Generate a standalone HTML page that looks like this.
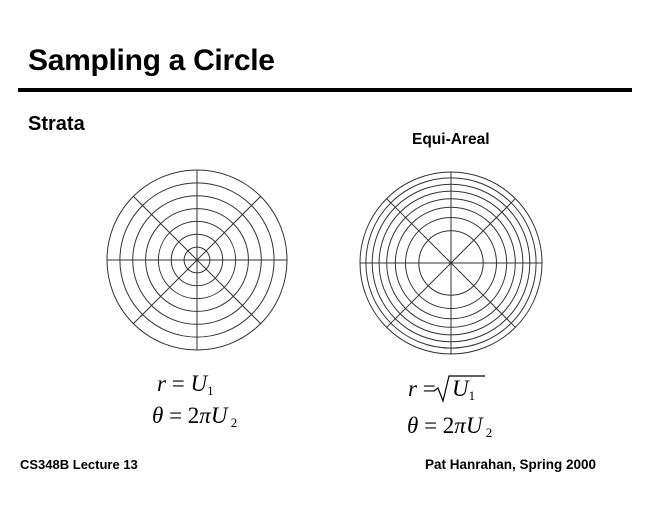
<!DOCTYPE html>
<html><head><meta charset="utf-8"><style>
html,body{margin:0;padding:0;background:#fff;}
body{width:660px;height:510px;position:relative;overflow:hidden;font-family:"Liberation Sans",sans-serif;color:#000;}
.a{position:absolute;white-space:nowrap;line-height:1;}
.b{font-weight:bold;}
.m{font-family:"Liberation Serif",serif;font-size:23px;}
.m i{font-style:italic;}
.m sub{font-size:13px;vertical-align:-4px;}
</style></head><body>
<div class="a b" style="left:28px;top:46px;font-size:30px;letter-spacing:-0.3px;">Sampling a Circle</div>
<div style="position:absolute;left:18px;top:88px;width:614px;height:4px;background:#000;"></div>
<div class="a b" style="left:28px;top:114px;font-size:20px;">Strata</div>
<div class="a b" style="left:412px;top:132px;font-size:15.5px;">Equi-Areal</div>
<svg width="660" height="510" style="position:absolute;left:0;top:0" fill="none" stroke="#333" stroke-width="1">
<g transform="translate(197,260)">
<circle r="12.9"/><circle r="25.7"/><circle r="38.6"/><circle r="51.4"/><circle r="64.3"/><circle r="77.1"/><circle r="90"/>
<line x1="-90" y1="0" x2="90" y2="0"/><line x1="0" y1="-90" x2="0" y2="90"/>
<line x1="-63.6" y1="-63.6" x2="63.6" y2="63.6"/><line x1="-63.6" y1="63.6" x2="63.6" y2="-63.6"/>
</g>
<g transform="translate(451,263)">
<circle r="32.2"/><circle r="45.5"/><circle r="55.7"/><circle r="64.3"/><circle r="71.9"/><circle r="78.8"/><circle r="85.1"/><circle r="91"/>
<line x1="-91" y1="0" x2="91" y2="0"/><line x1="0" y1="-91" x2="0" y2="91"/>
<line x1="-64.3" y1="-64.3" x2="64.3" y2="64.3"/><line x1="-64.3" y1="64.3" x2="64.3" y2="-64.3"/>
</g>
<path d="M434 391 L438 388 L443 401 L449 376 L485 376" stroke="#000" stroke-width="1.2"/>
</svg>
<div class="a m" style="left:157px;top:372px;"><i>r</i> = <i>U</i><sub>1</sub></div>
<div class="a m" style="left:152px;top:404px;"><i>θ</i> = 2<i>π</i><i>U</i><sub> 2</sub></div>
<div class="a m" style="left:408px;top:377px;"><i>r</i> =</div>
<div class="a m" style="left:452px;top:377px;"><i>U</i><sub>1</sub></div>
<div class="a m" style="left:407px;top:414px;"><i>θ</i> = 2<i>π</i><i>U</i><sub> 2</sub></div>
<div class="a b" style="left:20px;top:458px;font-size:13px;">CS348B Lecture 13</div>
<div class="a b" style="left:425px;top:458px;font-size:13.5px;">Pat Hanrahan, Spring 2000</div>
</body></html>
